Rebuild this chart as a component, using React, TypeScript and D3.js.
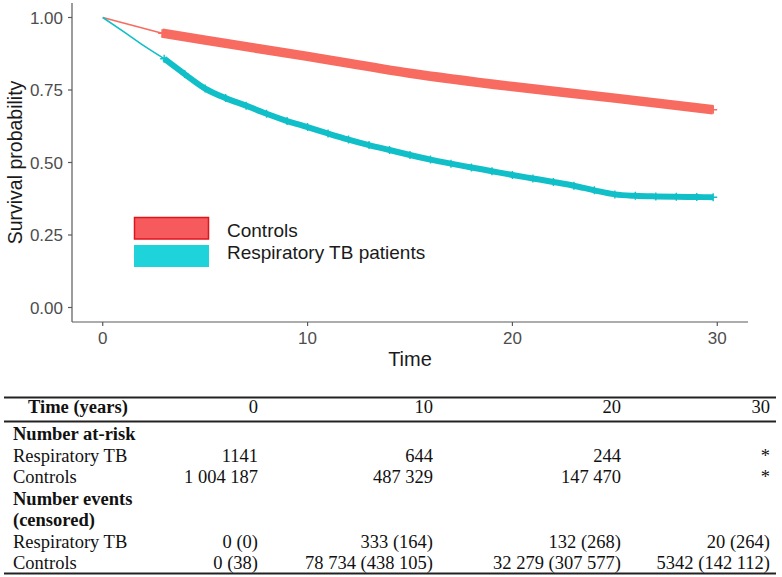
import React from "react";
import * as d3 from "d3";

// ---- data ----
const xTicks = [0, 10, 20, 30];
const yTicks = [0, 0.25, 0.5, 0.75, 1];

const controlsTime = [0, 2.9, 5, 10, 15, 20, 25, 29.8];
const controlsSurv = [1, 0.946, 0.922, 0.866, 0.808, 0.762, 0.722, 0.682];
const controlsFirstCensor = 2.9;

const tbTime = [0, 1, 2, 3, 4, 5, 6, 7, 8, 9, 10, 11, 12, 13, 14, 15, 16, 17, 18, 19, 20, 21, 22, 23, 24, 25, 26, 27, 28, 29, 29.8];
const tbSurv = [1, 0.952, 0.903, 0.858, 0.805, 0.755, 0.722, 0.696, 0.668, 0.643, 0.622, 0.6, 0.579, 0.56, 0.543, 0.526, 0.51, 0.496, 0.483, 0.47, 0.457, 0.445, 0.433, 0.42, 0.404, 0.39, 0.385, 0.383, 0.382, 0.381, 0.38];
const tbFirstCensor = 3;

const legendLabels = ["Controls", "Respiratory TB patients"];

const tableHeader = ["Time (years)", "0", "10", "20", "30"];
const atRiskTB = ["1141", "644", "244", "*"];
const atRiskCtrl = ["1 004 187", "487 329", "147 470", "*"];
const eventsTB = ["0 (0)", "333 (164)", "132 (268)", "20 (264)"];
const eventsCtrl = ["0 (38)", "78 734 (438 105)", "32 279 (307 577)", "5342 (142 112)"];

// ---- layout ----
const W = 782;
const H = 577;
const x = d3.scaleLinear().domain([-1.5, 31.5]).range([72, 748]);
const y = d3.scaleLinear().domain([-0.05, 1.05]).range([322, 3]);

const RED = "#F86B60";
const CYAN = "#10BFC7";
const SANS = "'Liberation Sans', Arial, sans-serif";
const SERIF = "'Liberation Serif', 'Times New Roman', serif";

type Pt = [number, number];
const line = d3.line<Pt>().x((d) => x(d[0])).y((d) => y(d[1]));
const smooth = d3.line<Pt>().x((d) => x(d[0])).y((d) => y(d[1])).curve(d3.curveMonotoneX);

function pts(t: number[], s: number[]): Pt[] {
  return t.map((v, i) => [v, s[i]] as Pt);
}

const controls = pts(controlsTime, controlsSurv);
const tb = pts(tbTime, tbSurv);

const plus = "M-4,0H4M0,-4V4";

export default function App() {
  const ctrlBand = controls.filter((d) => d[0] >= controlsFirstCensor);
  const tbBand = tb.filter((d) => d[0] >= tbFirstCensor);
  const tbEarly = tb.filter((d) => d[0] <= tbFirstCensor);
  const ctrlEarly = controls.filter((d) => d[0] <= controlsFirstCensor);

  const colRight = [258, 433, 621, 770];
  const rowY = { header: 413, atRisk: 440, r1: 461.5, r2: 483, ev1: 504.5, ev2: 526, r3: 547.5, r4: 569 };

  const textRow = (label: string, vals: string[], yy: number) => (
    <g key={label + yy}>
      <text x={13} y={yy}>{label}</text>
      {vals.map((v, i) => (
        <text key={i} x={colRight[i]} y={yy} textAnchor="end">{v}</text>
      ))}
    </g>
  );

  return (
    <svg width={W} height={H} style={{ position: "absolute", left: 0, top: 0, background: "#fff" }}>
      <rect width={W} height={H} fill="#fff" />
      {/* curves */}
      <path d={smooth(ctrlBand) || ""} fill="none" stroke={RED} strokeWidth={9.5} strokeLinecap="butt" />
      <path d={line(ctrlEarly) || ""} fill="none" stroke={RED} strokeWidth={1.6} />
      <path d={smooth(tbBand) || ""} fill="none" stroke={CYAN} strokeWidth={6} strokeLinecap="butt" />
      <path d={smooth(tbEarly) || ""} fill="none" stroke={CYAN} strokeWidth={1.6} />
      {tbBand.map((d, i) => (
        <path key={"tp" + i} d={plus} transform={`translate(${x(d[0])},${y(d[1])})`} stroke={CYAN} strokeWidth={1.4} />
      ))}
      {[ctrlBand[0], ctrlBand[ctrlBand.length - 1]].map((d, i) => (
        <path key={"cp" + i} d={plus} transform={`translate(${x(d[0])},${y(d[1])})`} stroke={RED} strokeWidth={1.6} />
      ))}

      {/* axes */}
      <line x1={72} x2={72} y1={3} y2={322} stroke="#5a5a5a" strokeWidth={1.2} />
      <line x1={72} x2={748} y1={322} y2={322} stroke="#5a5a5a" strokeWidth={1.2} />
      {yTicks.map((t) => (
        <g key={"y" + t}>
          <line x1={68} x2={72} y1={y(t)} y2={y(t)} stroke="#5a5a5a" strokeWidth={1.2} />
          <text x={63} y={y(t) + 6} textAnchor="end" fontFamily={SANS} fontSize={17} fill="#4d4d4d">
            {d3.format(".2f")(t)}
          </text>
        </g>
      ))}
      {xTicks.map((t) => (
        <g key={"x" + t}>
          <line x1={x(t)} x2={x(t)} y1={322} y2={326} stroke="#5a5a5a" strokeWidth={1.2} />
          <text x={x(t)} y={344} textAnchor="middle" fontFamily={SANS} fontSize={17} fill="#4d4d4d">
            {t}
          </text>
        </g>
      ))}
      <text x={410} y={366} textAnchor="middle" fontFamily={SANS} fontSize={20} fill="#1a1a1a">Time</text>
      <text transform="translate(22,162.5) rotate(-90)" textAnchor="middle" fontFamily={SANS} fontSize={19.5} fill="#1a1a1a">
        Survival probability
      </text>

      {/* legend */}
      <rect x={134.5} y={217.5} width={74} height={21.5} fill="#F65A5C" stroke="#E0151C" strokeWidth={1.5} />
      <rect x={134} y={245} width={75} height={22} fill="#1FD3DB" />
      <text x={227} y={236.5} fontFamily={SANS} fontSize={19} fill="#1a1a1a">{legendLabels[0]}</text>
      <text x={227} y={258.5} fontFamily={SANS} fontSize={19} fill="#1a1a1a">{legendLabels[1]}</text>

      {/* table */}
      <g fontFamily={SERIF} fontSize={18.5} fill="#111">
        <line x1={4} x2={776} y1={397.5} y2={397.5} stroke="#222" strokeWidth={2} />
        <line x1={4} x2={776} y1={421.5} y2={421.5} stroke="#222" strokeWidth={2} />
        <line x1={4} x2={776} y1={573.5} y2={573.5} stroke="#222" strokeWidth={2} />
        <text x={28} y={rowY.header} fontWeight="bold">{tableHeader[0]}</text>
        {tableHeader.slice(1).map((h, i) => (
          <text key={"h" + i} x={colRight[i]} y={rowY.header} textAnchor="end">{h}</text>
        ))}
        <text x={13} y={rowY.atRisk} fontWeight="bold">Number at-risk</text>
        {textRow("Respiratory TB", atRiskTB, rowY.r1)}
        {textRow("Controls", atRiskCtrl, rowY.r2)}
        <text x={13} y={rowY.ev1} fontWeight="bold">Number events</text>
        <text x={13} y={rowY.ev2} fontWeight="bold">(censored)</text>
        {textRow("Respiratory TB", eventsTB, rowY.r3)}
        {textRow("Controls", eventsCtrl, rowY.r4)}
      </g>
    </svg>
  );
}
